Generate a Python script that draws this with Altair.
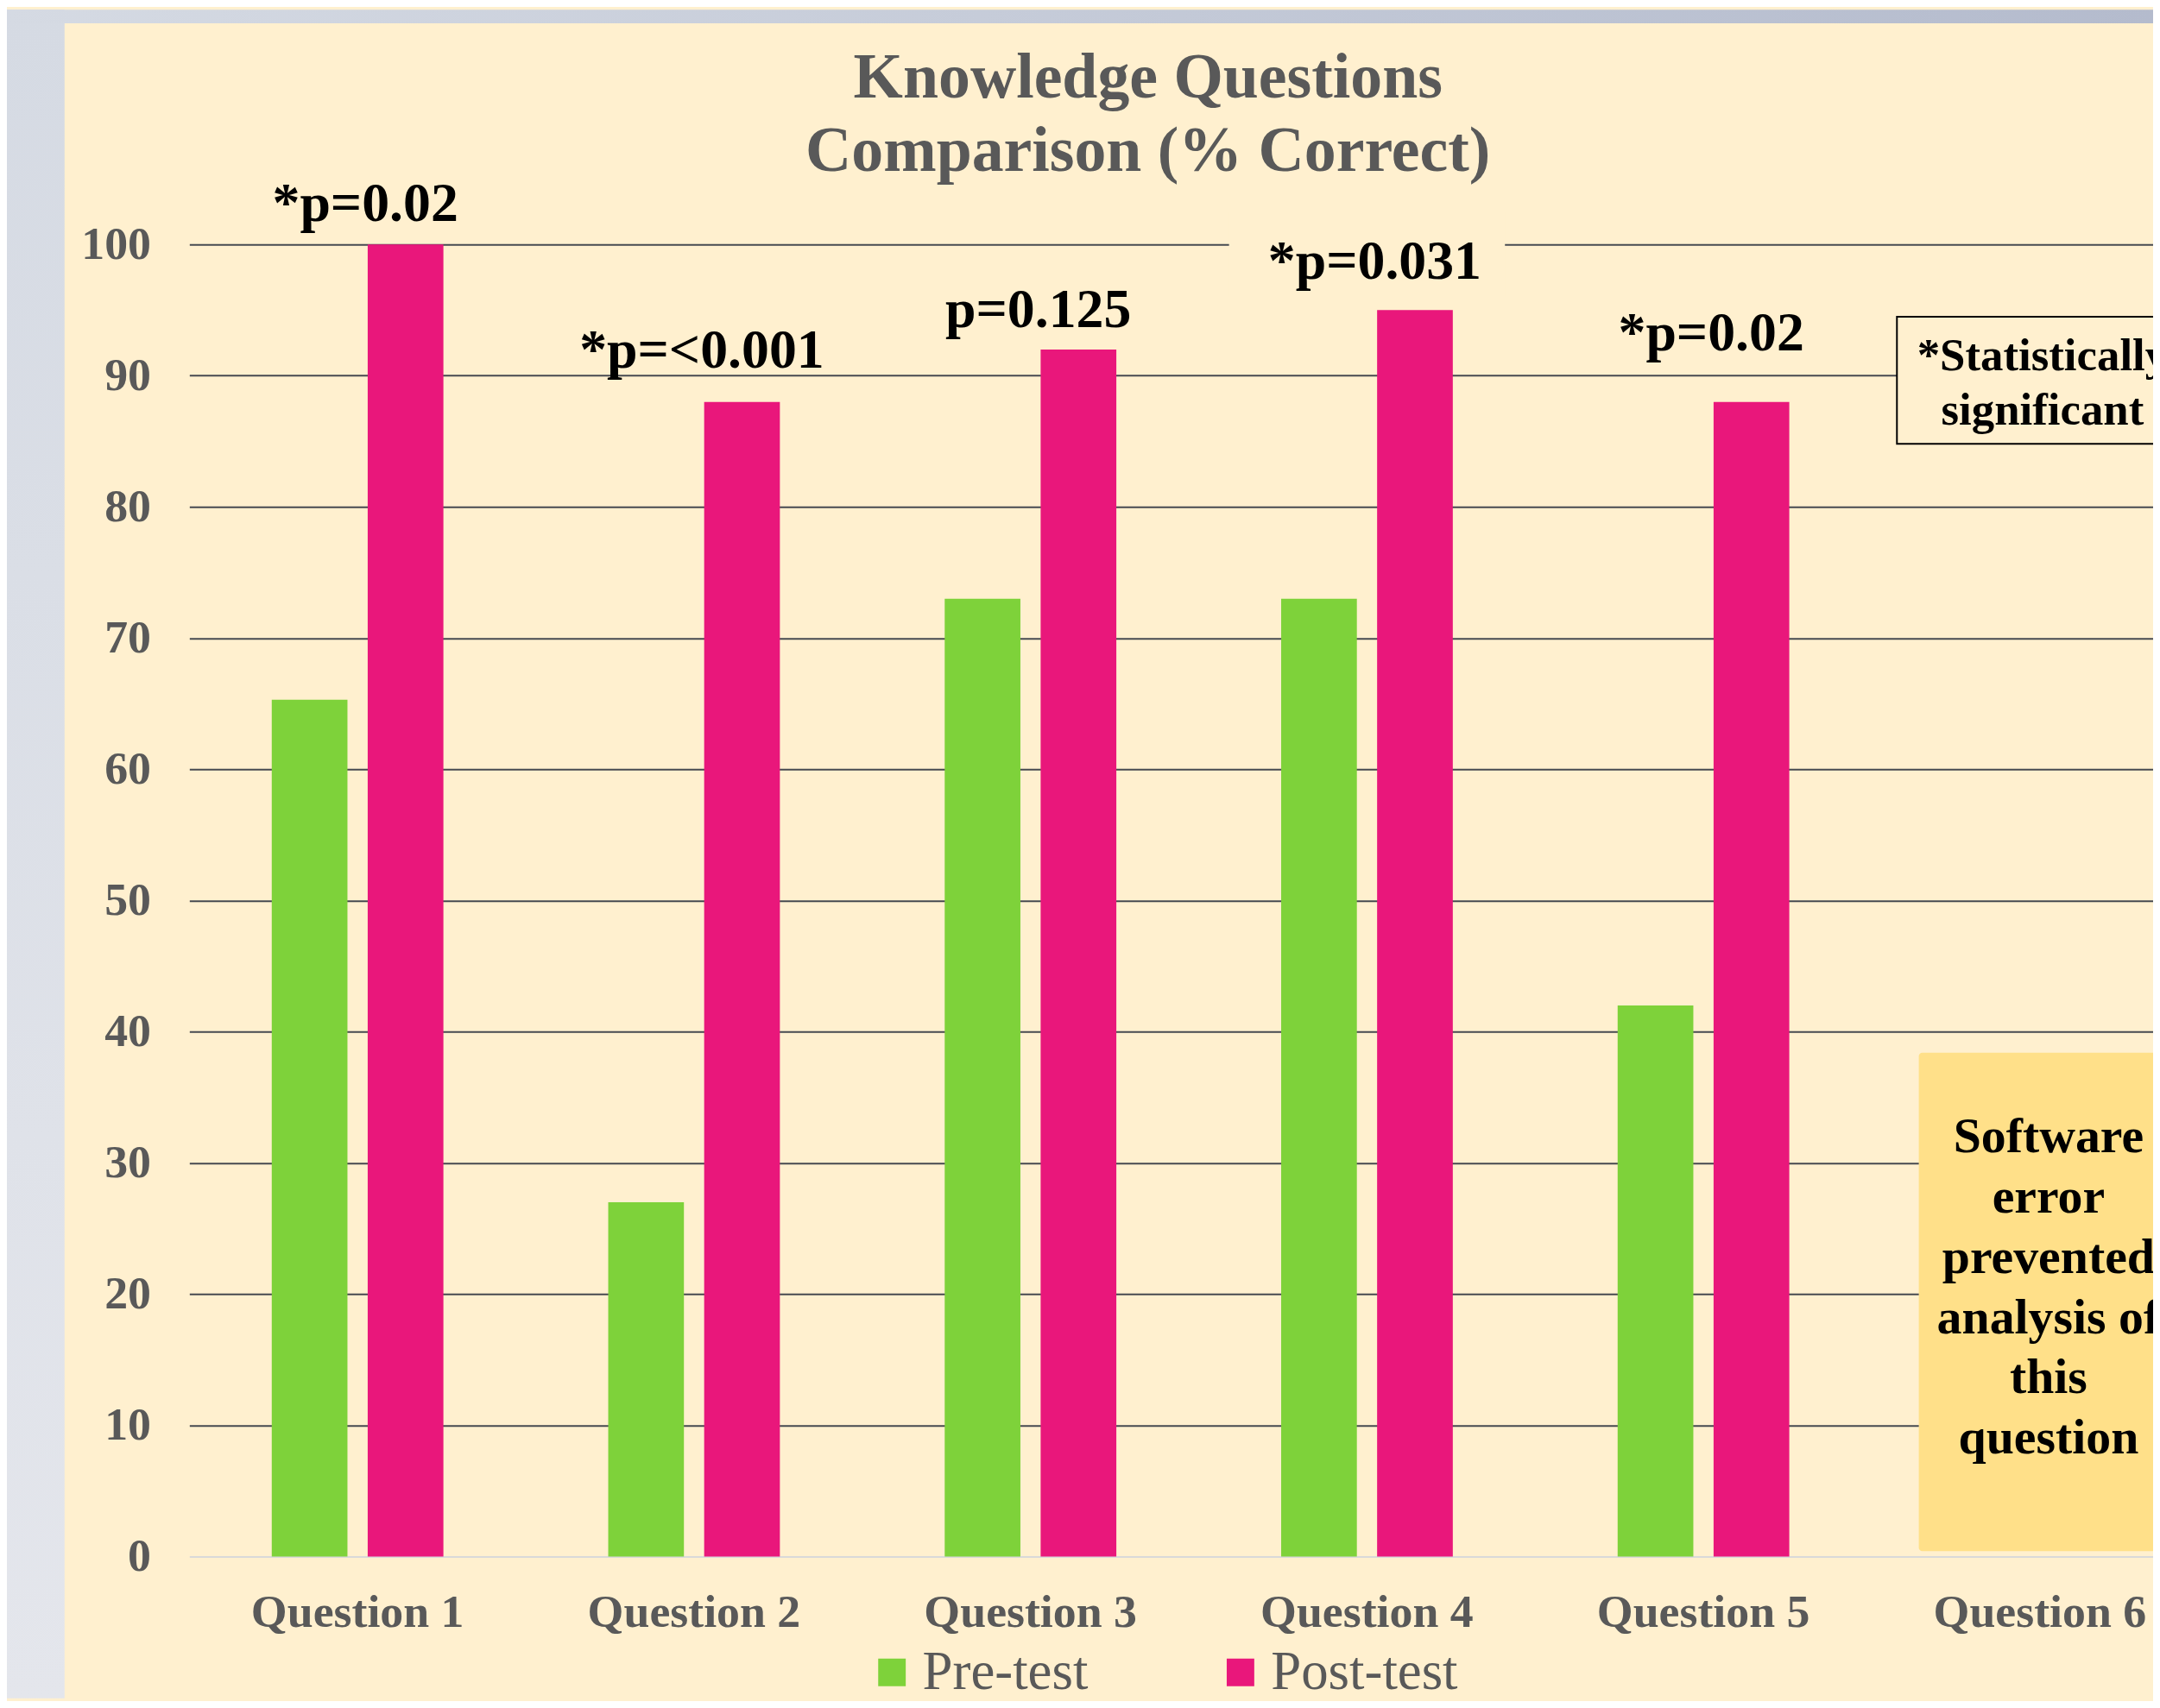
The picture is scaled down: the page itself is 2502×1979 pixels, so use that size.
import altair as alt
import pandas as pd

# ---------------- data ----------------
questions = ["Question 1", "Question 2", "Question 3", "Question 4", "Question 5", "Question 6"]
series = ["Pre-test", "Post-test"]
pre_test = [65.3, 27, 73, 73, 42]
post_test = [100, 88, 92, 95, 88]
p_labels = ["*p=0.02", "*p=<0.001", "p=0.125", "*p=0.031", "*p=0.02"]
p_label_y = [101.8, 90.6, 93.7, 97.4, 91.9]
y_ticks = [0, 10, 20, 30, 40, 50, 60, 70, 80, 90, 100]
sig_lines = ["*Statistically", "significant"]
note_lines = ["Software", "error", "prevented", "analysis of", "this", "question"]

# ---------------- style ----------------
FONT = "Liberation Serif"
GREY = "#595959"
CREAM = "#FFF0CF"
GREEN = "#7ED23A"
PINK = "#E9177B"
YELLOW = "#FFE089"
W, H = 2282, 1525
PAD_L, PAD_T, PAD_B = 212, 273, 165
STEP = 391

rows = []
for q, a, b in zip(questions, pre_test, post_test):
    rows.append({"question": q, "test": "Pre-test", "pct": a})
    rows.append({"question": q, "test": "Post-test", "pct": b})
bars_df = pd.DataFrame(rows)
plab_df = pd.DataFrame({"question": questions[:5], "label": p_labels, "y": p_label_y})

x_enc = alt.X(
    "question:N",
    sort=questions,
    scale=alt.Scale(domain=questions, range=[0, STEP * len(questions)], paddingInner=0, paddingOuter=0),
    axis=alt.Axis(
        title=None, labelAngle=0, ticks=False, domain=False, grid=False,
        labelFont=FONT, labelFontSize=54, labelFontWeight="bold", labelColor=GREY,
        labelPadding=38, labelLimit=1000,
    ),
)
y_scale = alt.Scale(domain=[0, 100], nice=False)
y_axis = alt.Axis(
    title=None, values=y_ticks, ticks=False, domain=False, grid=True,
    gridColor={"condition": {"test": "datum.value === 0", "value": "#d9d9d9"}, "value": "#464a50"},
    gridWidth=2,
    labelFont=FONT, labelFontSize=54, labelFontWeight="bold", labelColor=GREY,
    labelPadding=45, labelLimit=1000,
)

bars = alt.Chart(bars_df).mark_bar().encode(
    x=x_enc,
    xOffset=alt.XOffset("test:N", sort=series,
                        scale=alt.Scale(domain=series, paddingInner=0.211, paddingOuter=0.859)),
    y=alt.Y("pct:Q", scale=y_scale, axis=y_axis),
    color=alt.Color(
        "test:N",
        scale=alt.Scale(domain=series, range=[GREEN, PINK]),
        legend=alt.Legend(
            title=None, orient="none", legendX=785, legendY=1628, direction="horizontal",
            symbolType="square", symbolSize=1024, symbolStrokeWidth=0,
            labelFont=FONT, labelFontSize=63, labelColor=GREY, labelOffset=4,
            labelLimit=1000, columnPadding=145, padding=0,
        ),
    ),
)

# cream text-box behind the Question 4 label (hides the gridline)
q4_box = alt.Chart(pd.DataFrame({"question": ["Question 4"], "lo": [96.0], "hi": [102.5]})).mark_bar(
    color=CREAM, width=alt.RelativeBandSize(0.82)
).encode(x=alt.X("question:N"), y=alt.Y("lo:Q"), y2="hi:Q")

plabels = alt.Chart(plab_df).mark_text(
    font=FONT, fontSize=64, fontWeight="bold", color="black", baseline="alphabetic", align="center", dx=9
).encode(x=alt.X("question:N"), y=alt.Y("y:Q"), text="label:N")

sig_box = alt.Chart(pd.DataFrame({"question": ["Question 6"], "lo": [84.8], "hi": [94.5]})).mark_bar(
    fill=CREAM, stroke="black", strokeWidth=2, width=alt.RelativeBandSize(0.85)
).encode(x=alt.X("question:N"), y=alt.Y("lo:Q"), y2="hi:Q")

sig_text = alt.Chart(pd.DataFrame({"question": ["Question 6"], "y": [90.4]})).mark_text(
    font=FONT, fontSize=53, fontWeight="bold", color="black", baseline="alphabetic",
    align="center", lineHeight=63, dx=3
).encode(x=alt.X("question:N"), y=alt.Y("y:Q"), text=alt.value(sig_lines))

note_box = alt.Chart(pd.DataFrame({"question": ["Question 6"], "lo": [0.4], "hi": [38.4]})).mark_bar(
    fill=YELLOW, cornerRadius=4, width=alt.RelativeBandSize(0.72)
).encode(x=alt.X("question:N"), y=alt.Y("lo:Q"), y2="hi:Q")

note_text = alt.Chart(pd.DataFrame({"question": ["Question 6"], "y": [30.8]})).mark_text(
    font=FONT, fontSize=58, fontWeight="bold", color="black", baseline="alphabetic",
    align="center", lineHeight=70, dx=10
).encode(x=alt.X("question:N"), y=alt.Y("y:Q"), text=alt.value(note_lines))

# slide frame (grey border outside the cream panel)
one = pd.DataFrame({"k": [0]})
left_strip = alt.Chart(one).mark_rect(
    fill=alt.LinearGradient(gradient="linear",
                            stops=[alt.GradientStop(color="#d5dae3", offset=0),
                                   alt.GradientStop(color="#e4e6ec", offset=1)],
                            x1=0, x2=0, y1=0, y2=1)
).encode(x=alt.value(-PAD_L), x2=alt.value(-145), y=alt.value(-PAD_T), y2=alt.value(H + PAD_B))
top_strip = alt.Chart(one).mark_rect(
    fill=alt.LinearGradient(gradient="linear",
                            stops=[alt.GradientStop(color="#d5dae3", offset=0),
                                   alt.GradientStop(color="#b4bbcd", offset=1)],
                            x1=0, x2=1, y1=0, y2=0)
).encode(x=alt.value(-PAD_L), x2=alt.value(W), y=alt.value(-PAD_T), y2=alt.value(-257))

chart = alt.layer(
    bars, q4_box, plabels, sig_box, sig_text, note_box, note_text, left_strip, top_strip
).properties(
    width=W, height=H,
    padding={"left": PAD_L, "top": PAD_T, "right": 0, "bottom": PAD_B},
    autosize=alt.AutoSizeParams(type="none"),
    background=CREAM,
    title=alt.TitleParams(
        text=["Knowledge Questions", "Comparison (% Correct)"],
        font=FONT, fontSize=74, fontWeight="bold", color=GREY, lineHeight=85,
        anchor="middle", dx=-27, offset=20, dy=223, limit=2000,
    ),
).configure_view(stroke=None)

chart.save("out.html", embed_options={"renderer": "svg", "actions": False})
